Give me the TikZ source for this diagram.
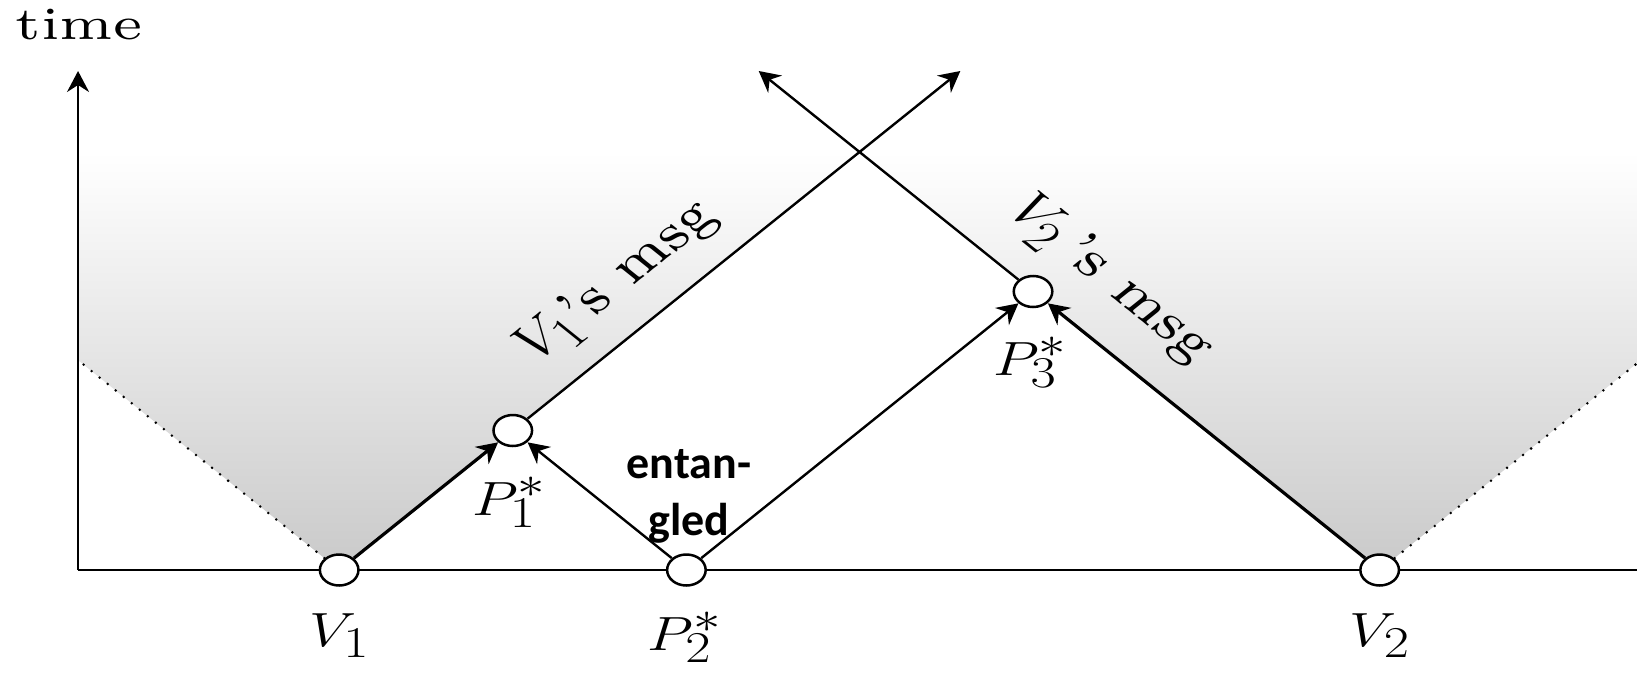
\RequirePackage{fix-cm}
\documentclass[tikz,border=0pt]{standalone}
\usepackage{fontspec}
\newfontfamily\calibrifont{Carlito}
\newfontfamily\lmseven{lmroman7-regular.otf}
\DeclareMathSizes{48}{48}{44}{36}
\DeclareMathSizes{50}{50}{45}{36}
\usetikzlibrary{arrows.meta}
\begin{document}
\begin{tikzpicture}[x=1pt,y=-1pt,
  >={Stealth[length=21pt,width=22pt,inset=7pt]},
  axisline/.style={line width=2.4pt},
  conn/.style={line width=2.4pt},
  thickconn/.style={line width=3.2pt},
  dotline/.style={line width=2.8pt, line cap=round, dash pattern=on 0pt off 10.3pt},
  evt/.style={circle, draw, line width=2.5pt, fill=white, minimum size=31pt, inner sep=0pt},
  ptlab/.style={font=\fontsize{48}{56}\selectfont, inner sep=0pt, anchor=north},
  msglab/.style={font=\lmseven\fontsize{50}{60}\selectfont, inner sep=0pt, anchor=base},
  conebg/.style={top color=white, bottom color=black!21}]
\useasboundingbox (0,0) rectangle (1637,674);
\begin{scope}[xscale=1.2446, transform shape]
  % shaded light cones
  \shade[conebg] (272.5,570) -- (62.7,360.2) -- (62.7,152) -- (690.5,152) -- cycle;
  \shade[conebg] (1108.5,570) -- (1316,362.5) -- (1316,152) -- (690.5,152) -- cycle;
  % axes
  \coordinate (o) at (62.7,570);
  \coordinate (ytop) at (62.7,71);
  \coordinate (xend) at (1320,570);
  \draw[axisline,->] (o) -- (ytop);
  \draw[axisline] (o) -- (xend);
  \node[font=\lmseven\fontsize{46}{54}\selectfont, inner sep=0pt, anchor=base] (time) at (63.5,40) {time};
  % free ends
  \coordinate (t1) at (771.5,71);
  \coordinate (t2) at (609.5,71);
  \coordinate (dl) at (62.7,360.2);
  \coordinate (dr) at (1320,358.5);
  % events
  \node[evt] (V1) at (272.5,570) {};
  \node[evt] (P2) at (551.5,570) {};
  \node[evt] (V2) at (1108.5,570) {};
  \node[evt] (P1) at (412,430.5) {};
  \node[evt] (P3) at (830,291.5) {};
  % connectors
  \draw[dotline] (V1) -- (dl);
  \draw[dotline] (V2) -- (dr);
  \draw[thickconn,->] (V1) -- (P1);
  \draw[conn,->] (P1) -- (t1);
  \draw[thickconn,->] (V2) -- (P3);
  \draw[conn,->] (P3) -- (t2);
  \draw[conn,->] (P2) -- (P1);
  \draw[conn,->] (P2) -- (P3);
  % labels
  \node[ptlab] (lV1) at (272.5,613) {$V_1$};
  \node[ptlab] (lP2) at (550,612) {$P_2^*$};
  \node[ptlab] (lV2) at (1108.5,613) {$V_2$};
  \node[ptlab] (lP1) at (409,477) {$P_1^*$};
  \node[ptlab] (lP3) at (827.5,337) {$P_3^*$};
  \node[msglab, rotate=45] (m1) at (505,290) {$V_1$’s msg};
  \node[msglab, rotate=-45] (m2) at (884,288) {$V_2$\,’s msg};
\end{scope}
\node[font=\calibrifont\bfseries\fontsize{46}{57}\selectfont, align=center, inner sep=0pt] (ent) at (689,496) {entan-\\gled};
\end{tikzpicture}
\end{document}
